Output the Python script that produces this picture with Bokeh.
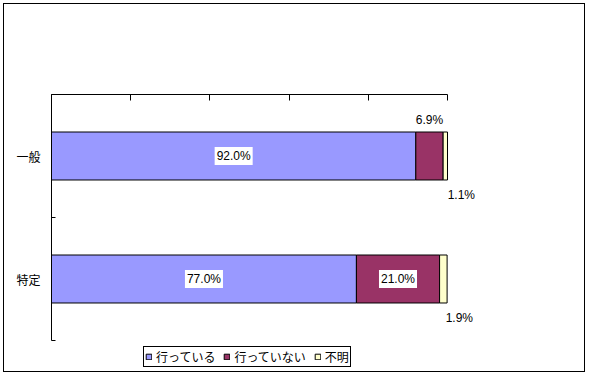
from bokeh.plotting import figure
from bokeh.models import Range1d, FixedTicker, ColumnDataSource, InlineStyleSheet
from bokeh.core.properties import value
from bokeh.embed import file_html
from bokeh.resources import INLINE

# ---- data ----
categories = ["一般", "特定"]          # top to bottom
series_names = ["行っている", "行っていない", "不明"]
doing = [92.0, 77.0]
not_doing = [6.9, 21.0]
unknown = [1.1, 1.9]
colors = ["#9999FF", "#993366", "#FFFFCC"]
x_ticks = [0, 20, 40, 60, 80, 100]

series = [doing, not_doing, unknown]
n = len(categories)
ycent = [n - i - 0.5 for i in range(n)]

# layout geometry (pixels)
W, H = 591, 377
AX_L, AX_R, AX_T, AX_B = 51, 447, 94, 340
xmax = 100 * (W - AX_L) / (AX_R - AX_L)
band = (AX_B - AX_T) / n
ymin = -(H - AX_B) / band

p = figure(width=W, height=H, output_backend="svg", toolbar_location=None,
           x_range=Range1d(0, xmax), y_range=Range1d(ymin, n),
           x_axis_location="above", min_border_left=AX_L, min_border_right=0,
           min_border_top=AX_T, min_border_bottom=0)
p.outline_line_color = None
p.xgrid.visible = False
p.ygrid.visible = False
p.background_fill_color = "white"
p.border_fill_color = "white"
# outer chart border drawn over the canvas
p.stylesheets = [InlineStyleSheet(css="""
:host { position: relative; }
:host::after {
  content: ""; position: absolute; left: 3px; top: 3px; width: 582px; height: 369px;
  border: 1.5px solid black; box-sizing: border-box; pointer-events: none; z-index: 100;
}
""")]

# top value axis: ticks only, pointing inward
xa = p.xaxis[0]
xa.bounds = (0, 100)
xa.ticker = FixedTicker(ticks=x_ticks, minor_ticks=[])
xa.major_label_overrides = {t: "" for t in x_ticks}
xa.major_tick_in = 6
xa.major_tick_out = 0
xa.axis_line_color = "black"
xa.major_tick_line_color = "black"

# left category axis: labels at band centres, ticks at band boundaries
ya = p.yaxis[0]
ya.bounds = (0, n)
ya.ticker = FixedTicker(ticks=ycent, minor_ticks=list(range(n + 1)))
ya.major_label_overrides = {y: c for y, c in zip(ycent, categories)}
ya.major_tick_in = 0
ya.major_tick_out = 0
ya.minor_tick_in = 4
ya.minor_tick_out = 0
ya.minor_tick_line_color = "black"
ya.major_label_standoff = 11
ya.major_label_text_font = "Noto Sans CJK JP"
ya.major_label_text_font_size = "12px"
ya.major_label_text_color = "black"
ya.axis_line_color = "black"

# stacked bars
bar_h = 0.39
left = [0.0] * n
ins = dict(x=[], y=[], text=[])
above = dict(x=[], y=[], text=[])
below = dict(x=[], y=[], text=[])
for j, (vals, name, col) in enumerate(zip(series, series_names, colors)):
    right = [l + v for l, v in zip(left, vals)]
    p.hbar(y=ycent, left=left, right=right, height=bar_h, fill_color=col,
           line_color="black", line_width=1, legend_label=name)
    for i in range(n):
        c = (left[i] + right[i]) / 2
        t = f"{vals[i]:.1f}%"
        if vals[i] >= 10:
            ins["x"].append(c); ins["y"].append(ycent[i]); ins["text"].append(t)
        elif j == len(series) - 1:
            below["x"].append(c); below["y"].append(ycent[i] - bar_h / 2); below["text"].append(t)
        else:
            above["x"].append(c); above["y"].append(ycent[i] + bar_h / 2); above["text"].append(t)
    left = right

num_font = value("Liberation Sans")
p.text(x="x", y="y", text="text", source=ColumnDataSource(ins),
       text_align="center", text_baseline="middle", text_font=num_font,
       text_font_size="12px", text_color="black",
       background_fill_color="white", padding=2)
p.text(x="x", y="y", text="text", source=ColumnDataSource(above),
       text_align="center", text_baseline="middle", y_offset=-12,
       text_font=num_font, text_font_size="12px", text_color="black")
p.text(x="x", y="y", text="text", source=ColumnDataSource(below),
       text_align="center", text_baseline="middle", y_offset=15, x_offset=16,
       text_font=num_font, text_font_size="12px", text_color="black")

# legend
lg = p.legend[0]
lg.orientation = "horizontal"
lg.location = (92, 10)
lg.border_line_color = "black"
lg.border_line_width = 1
lg.border_line_alpha = 1
lg.background_fill_color = "white"
lg.background_fill_alpha = 1
lg.padding = 1
lg.margin = 0
lg.spacing = 8
lg.glyph_width = 7
lg.glyph_height = 7
lg.label_standoff = 4
lg.label_height = 14
lg.label_text_font = "Noto Sans CJK JP"
lg.label_text_font_size = "12px"
lg.label_text_color = "black"

open("out.html", "w").write(file_html(p, INLINE))
